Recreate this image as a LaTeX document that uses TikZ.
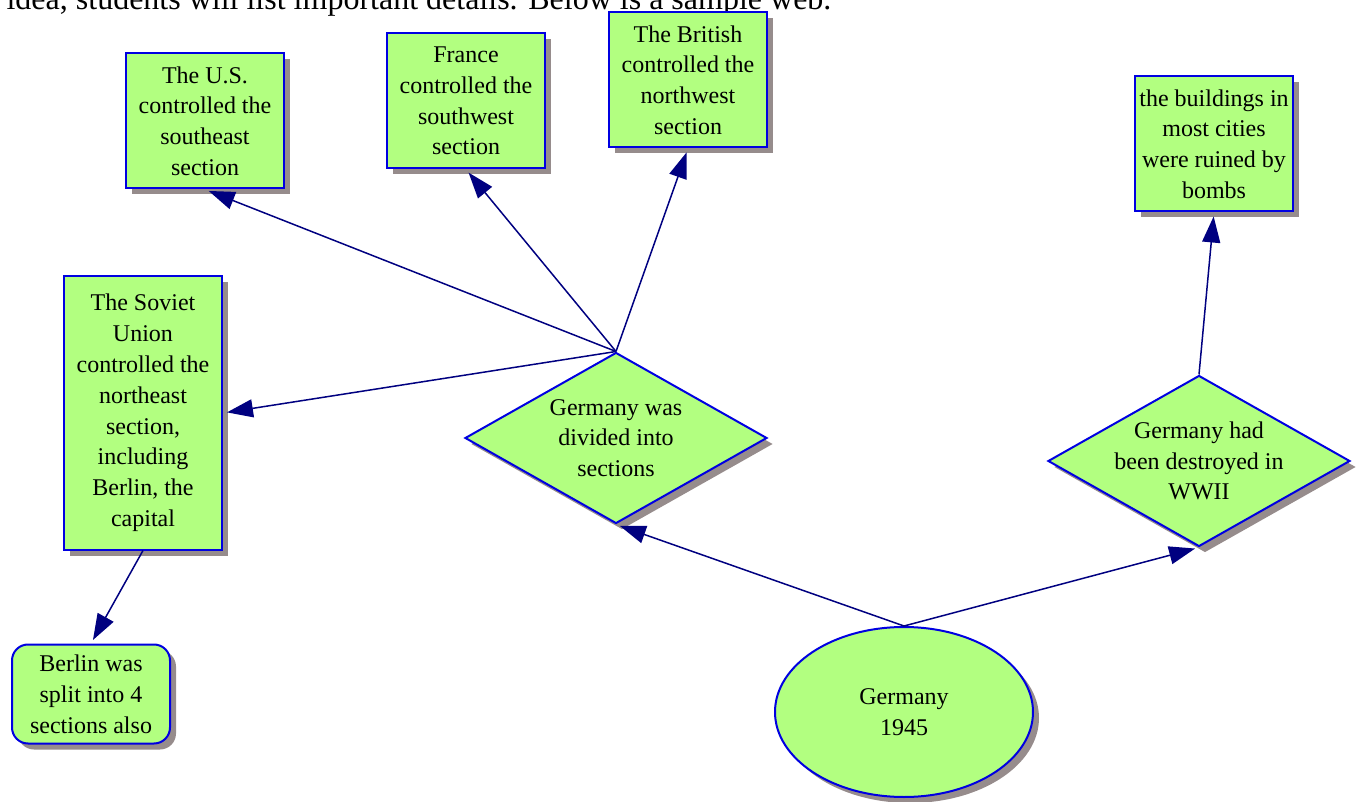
\documentclass[tikz,border=0pt]{standalone}
\usepackage{fontspec}
\setmainfont{Liberation Serif}
\usepackage{tikz}
\usetikzlibrary{positioning}
\usetikzlibrary{arrows.meta}
\usetikzlibrary{shapes,shadows}
\definecolor{webgreen}{RGB}{178,255,128}
\definecolor{webblue}{RGB}{0,0,225}
\definecolor{webnavy}{RGB}{0,0,128}
\definecolor{webshadow}{RGB}{150,140,140}
\tikzset{web node/.style={draw=webblue,line width=1pt,fill=webgreen,align=center,inner sep=0pt,
		font=\fontsize{12}{15.4}\selectfont,
		drop shadow={shadow xshift=3pt,shadow yshift=-3pt,fill=webshadow,opacity=1}},
	box node/.style={web node,rectangle,minimum width=79pt,minimum height=67.5pt},
	round node/.style={web node,rectangle,rounded corners=8pt,minimum width=79pt,minimum height=49.5pt},
	idea node/.style={web node,diamond,inner sep=-12pt,minimum width=151pt,minimum height=85.5pt},
	main node/.style={web node,ellipse,minimum width=129pt,minimum height=85pt},
	link/.style={draw=webnavy,color=webnavy,line width=0.75pt,->,shorten >=2pt},}

\begin{document}
\begin{tikzpicture}[x=0.5pt,y=-0.5pt,>={Triangle[length=13pt,width=9pt]},semithick]
	\clip (0,0) rectangle (1356,802);
	\node[anchor=base west,font=\fontsize{16}{19}\selectfont,inner sep=0pt] (intro) at (6,10)
	   {idea, students will list important details. Below is a sample web.};

	\node[main node] (germany) at (904,712) {Germany\\1945};
	\node[idea node] (divided) at (616,438) {Germany was\\divided into\\sections};
	\node[idea node] (destroyed) at (1199,461) {Germany had\\been destroyed in\\WWII};
	\node[box node] (us) at (205,121) {The U.S.\\controlled the\\southeast\\section};
	\node[box node] (france) at (466,101) {France\\controlled the\\southwest\\section};
	\node[box node] (british) at (688,80) {The British\\controlled the\\northwest\\section};
	\node[box node] (ruins) at (1214,144) {the buildings in\\most cities\\were ruined by\\bombs};
	\node[box node, minimum height=136.5pt] (soviet) at (143,413)
	   {The Soviet\\Union\\controlled the\\northeast\\section,\\including\\Berlin, the\\capital};
	\node[round node] (berlin) at (91,694) {Berlin was\\split into 4\\sections also};

	\path[every edge/.style=link]
	(germany.north) edge (divided.south)
	(germany.north) edge (destroyed.south)
	(divided.north) edge (us.south)
	(divided.north) edge (france.south)
	(divided.north) edge (british.south)
	(divided.north) edge (soviet.east)
	(destroyed.north) edge (ruins.south)
	(soviet.south) edge (berlin.north);
\end{tikzpicture}
\end{document}
